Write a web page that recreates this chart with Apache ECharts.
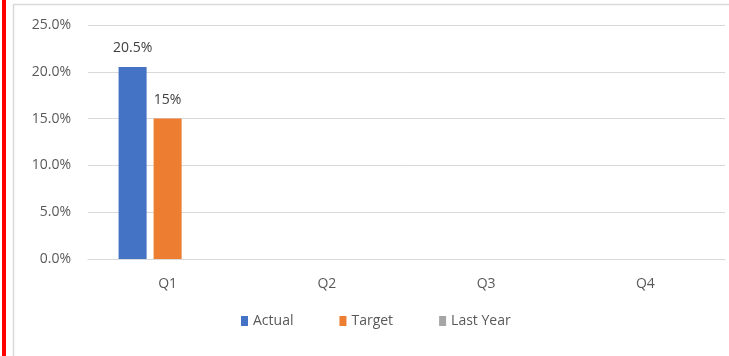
<!DOCTYPE html>
<html>
<head>
<meta charset="utf-8">
<script src="https://cdn.jsdelivr.net/npm/echarts@6/dist/echarts.min.js"></script>
<style>
html,body{margin:0;padding:0;background:#fff;}
#c{width:729px;height:356px;}
</style>
</head>
<body>
<div id="c"></div>
<script>
var categories = ['Q1', 'Q2', 'Q3', 'Q4'];
var actual = [20.5, null, null, null];
var target = [15, null, null, null];
var lastYear = [null, null, null, null];
var yTicks = [0, 5, 10, 15, 20, 25];

var FONT = 'Open Sans';
var chart = echarts.init(document.getElementById('c'));
chart.setOption({
  animation: false,
  textStyle: { fontFamily: FONT },
  graphic: [
    { type: 'rect', shape: { x: 2, y: 0, width: 4, height: 356 }, style: { fill: '#ff0000' } },
    { type: 'line', shape: { x1: 13.5, y1: 4, x2: 13.5, y2: 356 }, style: { stroke: '#d9d9d9', lineWidth: 1.5 } },
    { type: 'line', shape: { x1: 13, y1: 4.5, x2: 729, y2: 4.5 }, style: { stroke: '#d9d9d9', lineWidth: 1.5 } }
  ],
  grid: { left: 88, right: 4, top: 25, bottom: 97 },
  legend: {
    bottom: 23,
    left: 236,
    itemWidth: 7,
    itemHeight: 10,
    itemGap: 46,
    icon: 'rect',
    textStyle: { color: '#595959', fontSize: 14, fontFamily: FONT },
    data: ['Actual', 'Target', 'Last Year']
  },
  xAxis: {
    type: 'category',
    data: categories,
    axisTick: { show: false },
    axisLine: { lineStyle: { color: '#d9d9d9' } },
    axisLabel: { color: '#595959', fontSize: 14, margin: 18, fontFamily: FONT }
  },
  yAxis: {
    type: 'value',
    min: yTicks[0],
    max: yTicks[yTicks.length - 1],
    interval: 5,
    axisLine: { show: false },
    axisTick: { show: false },
    splitLine: { lineStyle: { color: '#d9d9d9' } },
    axisLabel: { color: '#595959', fontSize: 14, margin: 17, fontFamily: FONT,
      formatter: function (v) { return v.toFixed(1) + '%'; } }
  },
  series: [
    { name: 'Actual', type: 'bar', data: actual, barWidth: '17.6%', barGap: '25%',
      itemStyle: { color: '#4472C4' },
      label: { show: true, position: 'top', distance: 12, color: '#404040', fontSize: 14, fontFamily: FONT,
        formatter: function (p) { return p.value.toFixed(1) + '%'; } } },
    { name: 'Target', type: 'bar', data: target, barWidth: '17.6%', barGap: '25%',
      itemStyle: { color: '#ED7D31' },
      label: { show: true, position: 'top', distance: 12, color: '#404040', fontSize: 14, fontFamily: FONT,
        formatter: function (p) { return p.value + '%'; } } },
    { name: 'Last Year', type: 'bar', data: lastYear, barWidth: '17.6%', barGap: '25%',
      itemStyle: { color: '#A5A5A5' } }
  ]
});
</script>
</body>
</html>
